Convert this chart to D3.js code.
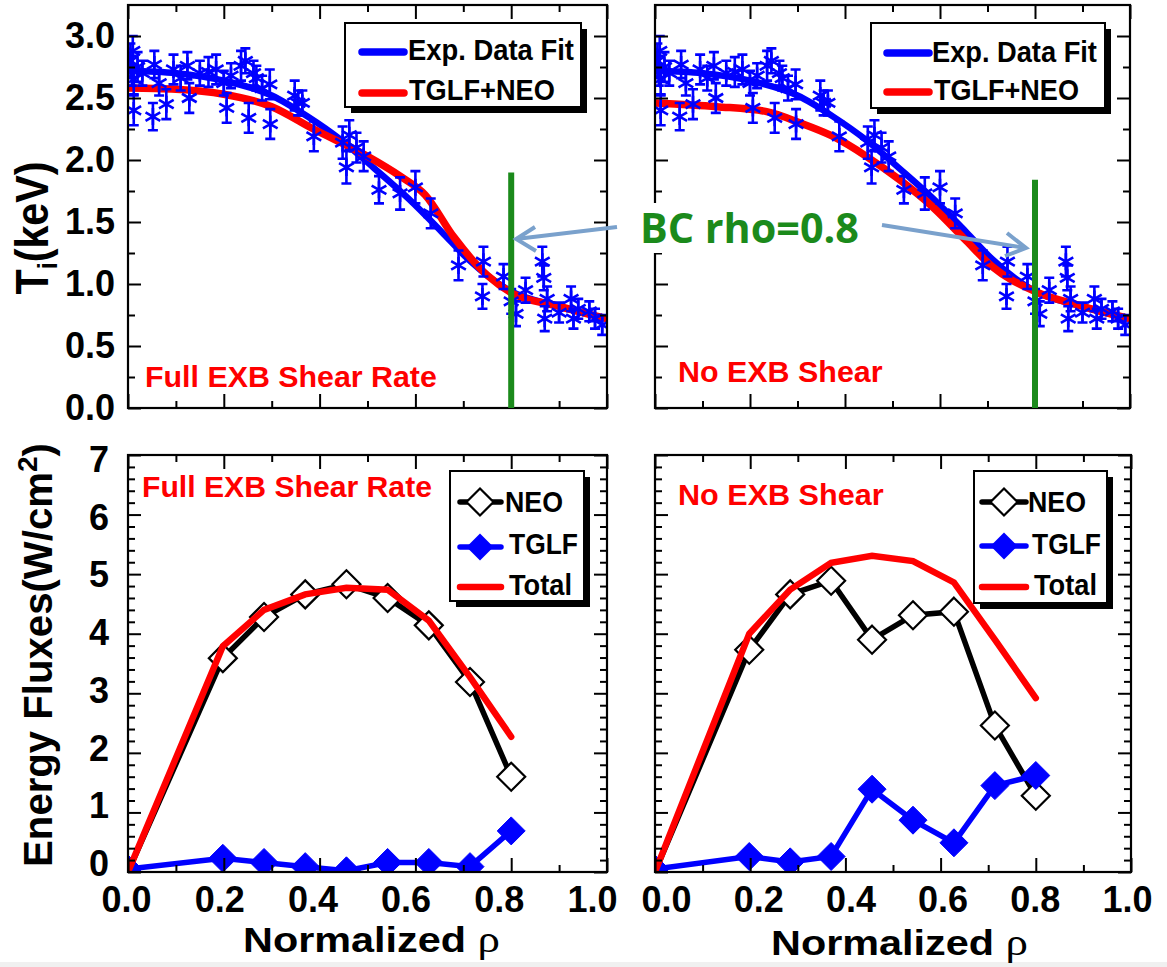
<!DOCTYPE html>
<html><head><meta charset="utf-8">
<script src="https://cdn.jsdelivr.net/npm/d3@7"></script>
<style>body{margin:0;background:#fff}svg{display:block}</style>
</head><body>
<script>
// ---------------- DATA ----------------
// experimental ion temperature points (same data in both top panels)
const expRho = [0.005,0.008,0.010,0.012,0.012,0.020,0.030,0.052,0.055,0.065,0.080,0.095,0.110,0.124,0.128,0.150,0.168,0.184,0.200,0.206,0.215,0.236,0.245,0.252,0.262,0.268,0.280,0.296,0.297,0.348,0.355,0.364,0.388,0.448,0.456,0.462,0.477,0.492,0.524,0.568,0.600,0.632,0.690,0.740,0.742,0.784,0.800,0.810,0.830,0.865,0.868,0.870,0.875,0.900,0.925,0.930,0.940,0.963,0.975,0.990];
const expTi  = [2.80,2.72,2.88,2.65,2.40,2.75,2.70,2.35,2.77,2.62,2.45,2.73,2.66,2.76,2.50,2.70,2.71,2.73,2.62,2.42,2.68,2.76,2.80,2.34,2.70,2.66,2.58,2.61,2.29,2.52,2.46,2.46,2.19,2.14,1.94,2.20,2.10,2.03,1.76,1.73,1.78,1.57,1.15,0.90,1.18,1.06,0.86,0.76,0.95,1.18,1.05,0.72,0.88,0.77,0.88,0.72,0.80,0.78,0.72,0.67];
const expErr = [0.14,0.12,0.12,0.12,0.12,0.12,0.10,0.11,0.11,0.10,0.12,0.12,0.10,0.11,0.12,0.10,0.12,0.12,0.10,0.12,0.10,0.12,0.10,0.12,0.10,0.10,0.10,0.12,0.12,0.12,0.10,0.10,0.12,0.13,0.13,0.12,0.12,0.12,0.11,0.13,0.13,0.12,0.12,0.10,0.12,0.10,0.10,0.10,0.10,0.12,0.10,0.10,0.10,0.08,0.10,0.08,0.08,0.08,0.08,0.08];
// experimental fit
const fitRho = [0,0.1,0.2,0.3,0.375,0.445,0.515,0.585,0.655,0.71,0.8,0.9,1.0];
const fitTi  = [2.72,2.70,2.64,2.52,2.35,2.16,1.93,1.69,1.42,1.20,0.94,0.82,0.72];
// TGLF+NEO, full ExB shear
const simFullRho = [0,0.1,0.2,0.3,0.387,0.5,0.568,0.62,0.68,0.75,0.8,0.9,1.0];
const simFullTi  = [2.58,2.57,2.53,2.43,2.25,2.03,1.87,1.72,1.38,1.07,0.93,0.82,0.72];
// TGLF+NEO, no ExB shear
const simNoRho = [0,0.13,0.235,0.305,0.375,0.445,0.515,0.585,0.655,0.71,0.8,0.9,1.0];
const simNoTi  = [2.46,2.43,2.39,2.30,2.19,2.03,1.84,1.62,1.35,1.14,0.94,0.82,0.72];
// energy fluxes
const fluxRho   = [0,0.198,0.284,0.37,0.456,0.542,0.628,0.714,0.80];
const neoFull   = [0,3.59,4.28,4.66,4.83,4.60,4.14,3.19,1.60];
const tglfFull  = [0.05,0.23,0.16,0.09,0.02,0.16,0.16,0.09,0.69];
const totalFull = [0,3.79,4.40,4.66,4.77,4.74,4.22,3.27,2.27];
const neoNo     = [0,3.73,4.66,4.89,3.90,4.31,4.37,2.46,1.28];
const tglfNo    = [0.05,0.26,0.17,0.26,1.39,0.87,0.49,1.45,1.62];
const totalNo   = [0,4.00,4.74,5.19,5.31,5.22,4.86,3.90,2.92];
// ticks
const xMajor = [0,0.2,0.4,0.6,0.8,1.0];
const xMinor = [0.1,0.3,0.5,0.7,0.9];
const xLabels = ["0.0","0.2","0.4","0.6","0.8","1.0"];
const tiMajor = [0,0.5,1.0,1.5,2.0,2.5,3.0];
const tiMinor = [0.25,0.75,1.25,1.75,2.25,2.75];
const tiLabels = ["0.0","0.5","1.0","1.5","2.0","2.5","3.0"];
const fxMajor = [0,1,2,3,4,5,6,7];
const fxMinor = [0.2,0.4,0.6,0.8,1.2,1.4,1.6,1.8,2.2,2.4,2.6,2.8,3.2,3.4,3.6,3.8,4.2,4.4,4.6,4.8,5.2,5.4,5.6,5.8,6.2,6.4,6.6,6.8];
const fxLabels = ["0","1","2","3","4","5","6","7"];
const bcRho = 0.8;

// ---------------- DRAW ----------------
const FONT = "'Liberation Sans', Arial, Helvetica, sans-serif";
const BLUE = "#0000ff", RED = "#ff0000", GREEN = "#1b8a1b", ARROW = "#7aa1cc";
const svg = d3.select('body').append('svg').attr('width',1167).attr('height',967);
svg.append('rect').attr('width',1167).attr('height',967).attr('fill','#fff');
svg.append('rect').attr('x',0).attr('y',962).attr('width',1167).attr('height',5).attr('fill','#f0f0f0');

const diamondSym = {draw(ctx,size){const r=Math.sqrt(size)/2; ctx.moveTo(0,-r);ctx.lineTo(r,0);ctx.lineTo(0,r);ctx.lineTo(-r,0);ctx.closePath();}};
const asteriskSym = {draw(ctx,size){const r=Math.sqrt(size)/2; const t=r/2, u=t*Math.sqrt(3);
  ctx.moveTo(0,r);ctx.lineTo(0,-r);ctx.moveTo(-u,-t);ctx.lineTo(u,t);ctx.moveTo(-u,t);ctx.lineTo(u,-t);}};

function makePanel(id,x0,x1,y0,y1,yDom){
  const x=d3.scaleLinear().domain([0,1]).range([x0,x1]);
  const y=d3.scaleLinear().domain(yDom).range([y1,y0]);
  const g=svg.append('g');
  svg.append('clipPath').attr('id',id).append('rect').attr('x',x0).attr('y',y0).attr('width',x1-x0).attr('height',y1-y0);
  const plot=g.append('g').attr('clip-path',`url(#${id})`);
  return {x,y,g,plot,x0,x1,y0,y1};
}
function styleAxis(a){a.select('.domain').remove();
  a.selectAll('line').attr('stroke','#000').attr('stroke-width',2);
  a.selectAll('text').attr('font-family',FONT).attr('font-weight','bold').attr('font-size',36).attr('fill','#000');return a;}
function axes(p,yMaj,yMin,xLabScale,yLabScale,yLab,yPad){
  const fr=p.g.append('g');
  const add=(axis,tr)=>styleAxis(fr.append('g').attr('transform',tr).call(axis));
  add(d3.axisBottom(p.x).tickValues(xMajor).tickSize(-14).tickFormat(()=>''),`translate(0,${p.y1})`);
  add(d3.axisBottom(p.x).tickValues(xMinor).tickSize(-7).tickFormat(()=>''),`translate(0,${p.y1})`);
  if(xLabScale) add(d3.axisBottom(xLabScale).tickValues(xMajor).tickSize(0).tickPadding(14).tickFormat((d,i)=>xLabels[i]),`translate(0,${p.y1})`).selectAll('line').remove();
  add(d3.axisTop(p.x).tickValues(xMajor).tickSize(-14).tickFormat(()=>''),`translate(0,${p.y0})`);
  add(d3.axisTop(p.x).tickValues(xMinor).tickSize(-7).tickFormat(()=>''),`translate(0,${p.y0})`);
  add(d3.axisLeft(p.y).tickValues(yMaj).tickSize(-13).tickFormat(()=>''),`translate(${p.x0},0)`);
  if(yLab) add(d3.axisLeft(yLabScale||p.y).tickValues(yMaj).tickSize(0).tickPadding(yPad).tickFormat((d,i)=>yLab[i]),`translate(${p.x0},0)`).selectAll('line').remove();
  add(d3.axisLeft(p.y).tickValues(yMin).tickSize(-7).tickFormat(()=>''),`translate(${p.x0},0)`);
  add(d3.axisRight(p.y).tickValues(yMaj).tickSize(-13).tickFormat(()=>''),`translate(${p.x1},0)`);
  add(d3.axisRight(p.y).tickValues(yMin).tickSize(-7).tickFormat(()=>''),`translate(${p.x1},0)`);
  p.g.append('rect').attr('x',p.x0).attr('y',p.y0).attr('width',p.x1-p.x0).attr('height',p.y1-p.y0)
    .attr('fill','none').attr('stroke','#000').attr('stroke-width',2.2);
}
function txt(parent,s,x,y,o){
  const t=parent.append('text').attr('transform',`translate(${x},${y})${o.rot?' rotate(-90)':''}`)
    .attr('font-family',o.family||FONT).attr('font-weight',o.weight||'bold').attr('font-size',o.size)
    .attr('fill',o.color||'#000').attr('text-anchor',o.anchor||'start');
  if(typeof s==='function') s(t); else t.text(s);
  if(o.w){const bw=t.node().getBBox().width; t.attr('transform',t.attr('transform')+` scale(${o.w/bw},1)`);}
  return t;
}

// ---- top panels ----
function topPanel(id,x0,x1,simRho,simTi){
  const p=makePanel(id,x0,x1,5,408,[0,3.25]);
  const line=d3.line().curve(d3.curveMonotoneX);
  p.plot.append('path').attr('d',line(fitRho.map((r,i)=>[p.x(r),p.y(fitTi[i])])))
    .attr('fill','none').attr('stroke',BLUE).attr('stroke-width',6.5);
  p.plot.append('path').attr('d',line(simRho.map((r,i)=>[p.x(r),p.y(simTi[i])])))
    .attr('fill','none').attr('stroke',RED).attr('stroke-width',7.5);
  const pts=p.plot.append('g').attr('stroke',BLUE).attr('stroke-width',2.6).attr('fill','none');
  expRho.forEach((r,i)=>{
    const cx=p.x(r), ylo=p.y(expTi[i]-expErr[i]), yhi=p.y(expTi[i]+expErr[i]);
    pts.append('path').attr('d',`M${cx},${ylo}V${yhi}M${cx-5},${ylo}H${cx+5}M${cx-5},${yhi}H${cx+5}`);
    pts.append('path').attr('transform',`translate(${cx},${p.y(expTi[i])})`).attr('d',d3.symbol(asteriskSym,289)());
  });
  return p;
}
const TL=topPanel('cTL',128,607,simFullRho,simFullTi);
const TR=topPanel('cTR',655,1130,simNoRho,simNoTi);
axes(TL,tiMajor,tiMinor,null,null,tiLabels,13);
axes(TR,tiMajor,tiMinor,null,null,null,13);

// ---- bottom panels ----
function botPanel(id,x0,x1,neo,tglf,tot){
  const p=makePanel(id,x0,x1,455,872,[0,7]);
  const line=d3.line();
  p.plot.append('path').attr('d',line(fluxRho.map((r,i)=>[p.x(r),p.y(neo[i])]))).attr('fill','none').attr('stroke','#000').attr('stroke-width',5.5);
  p.plot.selectAll('.neo').data(fluxRho.slice(1)).join('path').attr('transform',(r,i)=>`translate(${p.x(r)},${p.y(neo[i+1])})`)
    .attr('d',d3.symbol(diamondSym,784)()).attr('fill','#fff').attr('stroke','#000').attr('stroke-width',2.2);
  p.plot.append('path').attr('d',line(fluxRho.map((r,i)=>[p.x(r),p.y(tglf[i])]))).attr('fill','none').attr('stroke',BLUE).attr('stroke-width',5.5);
  p.plot.selectAll('.tg').data(fluxRho).join('path').attr('transform',(r,i)=>`translate(${p.x(r)},${p.y(tglf[i])})`)
    .attr('d',d3.symbol(diamondSym,784)()).attr('fill',BLUE).attr('stroke',BLUE).attr('stroke-width',1);
  p.plot.append('path').attr('d',line(fluxRho.map((r,i)=>[p.x(r),p.y(tot[i])]))).attr('fill','none').attr('stroke',RED).attr('stroke-width',6.5).attr('stroke-linecap','round');
  return p;
}
const BL=botPanel('cBL',128,607,neoFull,tglfFull,totalFull);
const BR=botPanel('cBR',655,1131,neoNo,tglfNo,totalNo);
// tick labels sit slightly compressed relative to the ticks in the original figure
axes(BL,fxMajor,fxMinor,d3.scaleLinear().domain([0,1]).range([126,592]),d3.scaleLinear().domain([0,7]).range([864,460]),fxLabels,19);
axes(BR,fxMajor,fxMinor,d3.scaleLinear().domain([0,1]).range([666,1127]),null,null,19);

// ---- legends ----
function box(x0,y0,x1,y1){
  svg.append('rect').attr('x',x0+6).attr('y',y0+6).attr('width',x1-x0).attr('height',y1-y0).attr('fill','#000');
  svg.append('rect').attr('x',x0).attr('y',y0).attr('width',x1-x0).attr('height',y1-y0).attr('fill','#fff').attr('stroke','#000').attr('stroke-width',2);
}
function lline(x0,x1,y,c,w){svg.append('line').attr('x1',x0).attr('x2',x1).attr('y1',y).attr('y2',y).attr('stroke',c).attr('stroke-width',w).attr('stroke-linecap','round');}
function topLegend(bx0,by0,bx1,by1,lx0,lx1,y1,y2,t1x,t1y,t1w,t2x,t2y,t2w){
  box(bx0,by0,bx1,by1);
  lline(lx0,lx1,y1,BLUE,7.5); lline(lx0,lx1,y2,RED,7.5);
  txt(svg,'Exp. Data Fit',t1x,t1y,{size:30,w:t1w});
  txt(svg,'TGLF+NEO',t2x,t2y,{size:30,w:t2w});
}
topLegend(345,23,581,107,362,404,52,93,408,60,166,409,100,146);
topLegend(871,23,1105,108,887,929,53,92,932,62,165,934,100,145);
function botLegend(bx0,by0,bx1,by1,lx0,lx1,dx,yN,yT,yS,tN,tT,tS){
  box(bx0,by0,bx1,by1);
  lline(lx0,lx1,yN,'#000',5.5);
  svg.append('path').attr('transform',`translate(${dx},${yN})`).attr('d',d3.symbol(diamondSym,729)()).attr('fill','#fff').attr('stroke','#000').attr('stroke-width',2.2);
  lline(lx0,lx1,yT,BLUE,5.5);
  svg.append('path').attr('transform',`translate(${dx},${yT})`).attr('d',d3.symbol(diamondSym,729)()).attr('fill',BLUE);
  lline(lx0,lx1,yS,RED,6.5);
  txt(svg,'NEO',tN,512,{size:30,w:58});
  txt(svg,'TGLF',tT,554,{size:30,w:69});
  txt(svg,'Total',tS,595,{size:30,w:63});
}
botLegend(450,471,584,601,460,501,480,502,547,587,505,509,509);
botLegend(974,471,1107,603,982,1026,1004,502,546,587,1028,1032,1034);

// ---- annotations ----
txt(svg,'Full EXB Shear Rate',145,387,{size:30,color:RED,w:292});
txt(svg,'No EXB Shear',678,382,{size:30,color:RED,w:205});
txt(svg,'Full EXB Shear Rate',142,497,{size:30,color:RED,w:290});
txt(svg,'No EXB Shear',678,505,{size:30,color:RED,w:206});

// axis titles
txt(svg,t=>{t.append('tspan').text('T');t.append('tspan').attr('font-size',28).attr('dy',9).text('i');t.append('tspan').attr('dy',-9).text('(keV)');},
  48,228,{size:46,anchor:'middle',rot:true,w:133});
txt(svg,t=>{t.append('tspan').text('Energy Fluxes(W/cm');t.append('tspan').attr('font-size',28).attr('dy',-15).text('2');t.append('tspan').attr('dy',15).text(')');},
  52,655,{size:40,anchor:'middle',rot:true,w:424});
function normTitle(x,y,w){
  txt(svg,t=>{t.append('tspan').text('Normalized ');t.append('tspan').attr('font-family',"'Liberation Serif','Times New Roman',serif").attr('font-weight','normal').attr('font-size',38).text('ρ');},
    x,y,{size:35,w:w});
}
normTitle(243,952,257);
normTitle(771,955,257);

// boundary condition lines
svg.append('line').attr('x1',TL.x(bcRho)).attr('x2',TL.x(bcRho)).attr('y1',TL.y(0)).attr('y2',TL.y(1.9)).attr('stroke',GREEN).attr('stroke-width',6);
svg.append('line').attr('x1',TR.x(bcRho)).attr('x2',TR.x(bcRho)).attr('y1',TR.y(0)).attr('y2',TR.y(1.84)).attr('stroke',GREEN).attr('stroke-width',6);

// BC label with white backing
svg.append('rect').attr('x',634).attr('y',203).attr('width',232).attr('height',50).attr('fill','#fff');
txt(svg,'BC rho=0.8',640,243,{size:42,color:GREEN,family:"'Open Sans','Lato',sans-serif",weight:700,w:219});

// arrows
const aline=d3.line();
function arrow(from,tip,w1,w2){
  svg.append('path').attr('d',aline([from,tip])).attr('stroke',ARROW).attr('stroke-width',4).attr('fill','none');
  svg.append('path').attr('d',aline([w1,tip,w2])).attr('stroke',ARROW).attr('stroke-width',4).attr('fill','none').attr('stroke-linejoin','miter');
}
arrow([617,227],[TL.x(bcRho)+5,239],[535,227],[536,251]);
arrow([882,225],[TR.x(bcRho)-9,248],[1007,233],[1005,256]);
</script>
</body></html>
